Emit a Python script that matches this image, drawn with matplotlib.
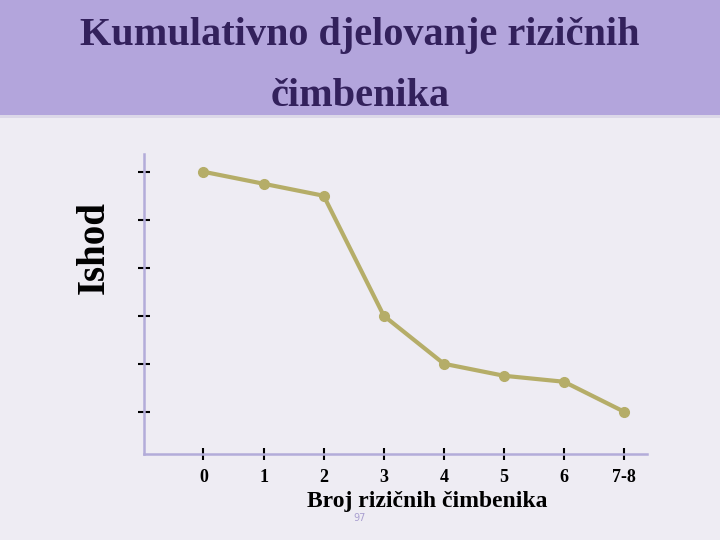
import matplotlib
matplotlib.use("Agg")
import matplotlib.pyplot as plt
from matplotlib.patches import Rectangle

categories = ["0", "1", "2", "3", "4", "5", "6", "7-8"]
outcome = [6.0, 5.75, 5.5, 3.0, 2.0, 1.75, 1.625, 1.0]
y_ticks = [1, 2, 3, 4, 5, 6]

title_line1 = "Kumulativno djelovanje rizičnih"
title_line2 = "čimbenika"
x_label = "Broj rizičnih čimbenika"
y_label = "Ishod"
page_number = "97"

serif = ["Liberation Serif", "DejaVu Serif"]

fig = plt.figure(figsize=(7.2, 5.4), dpi=100)
fig.patch.set_facecolor("#eeecf3")
# header band
fig.patches.append(Rectangle((0, 1 - 115 / 540), 1, 115 / 540, transform=fig.transFigure,
                             facecolor="#b3a5dc", edgecolor="none", zorder=0))
fig.patches.append(Rectangle((0, 1 - 118 / 540), 1, 3 / 540, transform=fig.transFigure,
                             facecolor="#dcd8e8", edgecolor="none", zorder=0))

fig.text(0.5, 1 - 36 / 540, title_line1, ha="center", va="center", fontsize=29,
         fontweight="bold", color="#33215c", family=serif)
fig.text(0.5, 1 - 97 / 540, title_line2, ha="center", va="center", fontsize=29,
         fontweight="bold", color="#33215c", family=serif)

ax = fig.add_axes([144 / 720, 1 - 454 / 540, (647 - 144) / 720, (454 - 154) / 540])
ax.set_facecolor("none")
x = list(range(len(categories)))
ax.plot(x, outcome, color="#b5ad68", linewidth=3, marker="o", markersize=7,
        markerfacecolor="#b5ad68", markeredgecolor="#b5ad68", solid_capstyle="round")

ax.set_xlim(-0.99, 7.38)
ax.set_ylim(0.12, 6.37)
ax.set_xticks(x)
ax.set_xticklabels(categories, fontsize=13, fontweight="bold", family=serif)
ax.set_yticks(y_ticks)
ax.set_yticklabels([])
ax.tick_params(axis="both", direction="inout", length=9, width=1.5, color="black")
ax.tick_params(axis="x", pad=6)
for s in ["top", "right"]:
    ax.spines[s].set_visible(False)
for s in ["left", "bottom"]:
    ax.spines[s].set_color("#b3acd9")
    ax.spines[s].set_linewidth(1.8)

ax.set_xlabel(x_label, fontsize=17, fontweight="bold", family=serif)
ax.xaxis.set_label_coords((427 - 144) / (647 - 144), -(491 - 454) / 300)
ax.set_ylabel(y_label, fontsize=28, fontweight="bold", family=serif)
ax.yaxis.set_label_coords(-(144 - 113) / 503, (454 - 248) / 300)

fig.text(360 / 720, 1 - 518 / 540, page_number, ha="center", va="center", fontsize=7,
         color="#a99fd0")

fig.savefig("out.png", dpi=100, facecolor=fig.get_facecolor())
